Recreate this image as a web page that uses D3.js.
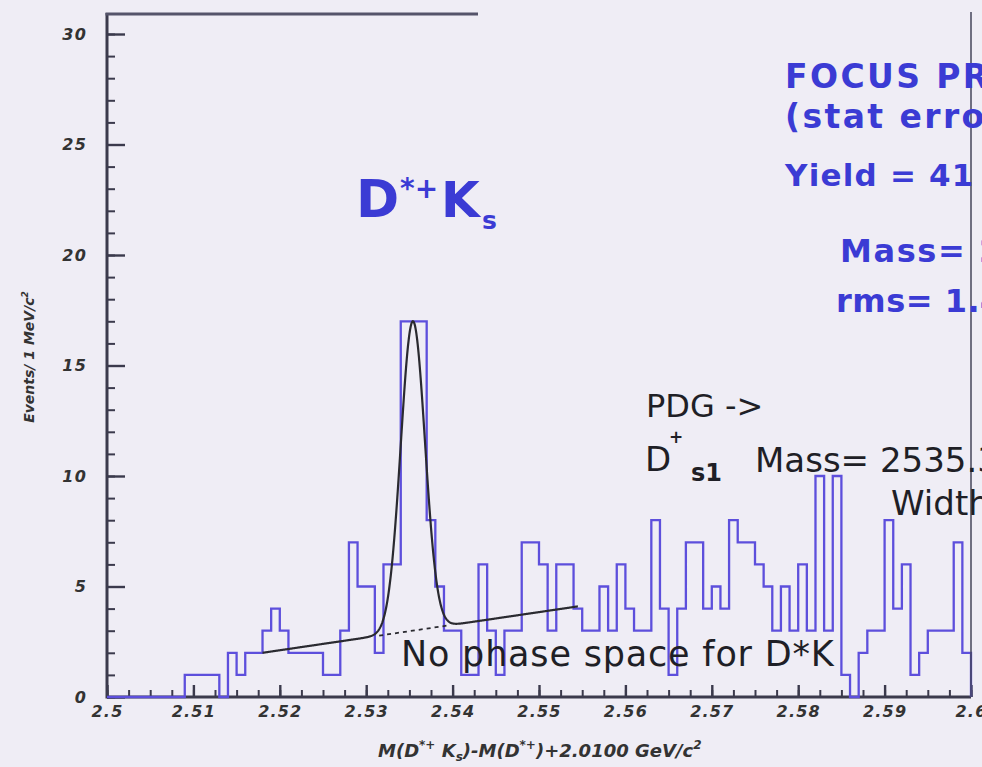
<!DOCTYPE html>
<html>
<head>
<meta charset="utf-8">
<script src="https://cdn.jsdelivr.net/npm/d3@7"></script>
<style>
  html, body { margin: 0; padding: 0; background: #efedf5; overflow: hidden; }
  svg { display: block; }
  text { font-family: 'DejaVu Sans', sans-serif; }
</style>
</head>
<body>
<svg width="982" height="767"></svg>
<script>
// histogram: events per 1 MeV bin, from 2.500 to 2.600 GeV
const binStart = 2.5;
const binWidth = 0.001;
const counts = [
  0, 0, 0, 0, 0, 0, 0, 0, 0, 1,
  1, 1, 1, 0, 2, 1, 2, 2, 3, 4,
  3, 2, 2, 2, 2, 1, 1, 3, 7, 5,
  5, 2, 6, 6, 17, 17, 17, 8, 5, 3,
  3, 1, 1, 6, 3, 1, 3, 3, 7, 7,
  6, 3, 6, 6, 4, 3, 3, 5, 3, 6,
  4, 3, 3, 8, 4, 1, 4, 7, 7, 4,
  5, 4, 8, 7, 7, 6, 5, 3, 5, 3,
  6, 3, 10, 3, 10, 1, 0, 2, 3, 3,
  8, 4, 6, 1, 2, 3, 3, 3, 7, 2
];

const xMajor = [2.5, 2.51, 2.52, 2.53, 2.54, 2.55, 2.56, 2.57, 2.58, 2.59, 2.6];
const xTickLabels = ['2.5', '2.51', '2.52', '2.53', '2.54', '2.55', '2.56', '2.57', '2.58', '2.59', '2.6'];
const yMajor = [0, 5, 10, 15, 20, 25, 30];
const yTickLabels = ['0', '5', '10', '15', '20', '25', '30'];

// fit: gaussian on a linear background
const fitRange = [2.518, 2.5545];
const bgEnds = [2.0, 4.1];
const peakMass = 2.5354;
const peakRms = 0.0014;
const peakHeight = 14;
const dashRange = [2.5315, 2.5393];

const svg = d3.select('svg');
const axisColor = '#3b3a4c';
const histColor = '#5d4fdc';
const blue = '#3b3bd4';
const ink = '#1f1f26';

const x = d3.scaleLinear().domain([2.5, 2.6]).range([107, 971]);
const y = d3.scaleLinear().domain([0, 30]).range([697, 34]);

const styleLabels = g => g.selectAll('text')
  .attr('fill', '#333').attr('font-size', 16).attr('font-weight', 'bold')
  .attr('font-style', 'italic').attr('letter-spacing', 1.2)
  .attr('font-family', 'DejaVu Sans');

// y axis, ticks pointing inwards
svg.append('g')
  .attr('transform', 'translate(' + x(2.5) + ',0)')
  .call(d3.axisLeft(y).tickValues(d3.range(0, 31)).tickSize(-8).tickFormat(''))
  .call(g => g.select('.domain').remove())
  .selectAll('line').attr('stroke', axisColor).attr('stroke-width', 2);

svg.append('g')
  .attr('transform', 'translate(' + x(2.5) + ',0)')
  .call(d3.axisLeft(y).tickValues(yMajor).tickSize(-18).tickPadding(20)
    .tickFormat((d, i) => yTickLabels[i]))
  .call(g => g.select('.domain').remove())
  .call(g => g.selectAll('line').attr('stroke', axisColor).attr('stroke-width', 2.4))
  .call(styleLabels);

// x axis
svg.append('g')
  .attr('transform', 'translate(0,' + y(0) + ')')
  .call(d3.axisBottom(x).tickValues(d3.range(0, 41).map(i => 2.5 + i * 0.0025)).tickSize(-7).tickFormat(''))
  .call(g => g.select('.domain').remove())
  .selectAll('line').attr('stroke', axisColor).attr('stroke-width', 2);

svg.append('g')
  .attr('transform', 'translate(0,' + y(0) + ')')
  .call(d3.axisBottom(x).tickValues(xMajor).tickSize(-12).tickPadding(9)
    .tickFormat((d, i) => xTickLabels[i]))
  .call(g => g.select('.domain').remove())
  .call(g => g.selectAll('line').attr('stroke', axisColor).attr('stroke-width', 2.4))
  .call(styleLabels);

// frame pieces
svg.append('line')
  .attr('x1', x(2.5)).attr('x2', x(2.6)).attr('y1', y(0)).attr('y2', y(0))
  .attr('stroke', axisColor).attr('stroke-width', 3);
svg.append('line')
  .attr('x1', x(2.5)).attr('x2', x(2.5)).attr('y1', 13).attr('y2', y(0) + 1.5)
  .attr('stroke', axisColor).attr('stroke-width', 3);
svg.append('line')
  .attr('x1', x(2.5) - 1.5).attr('x2', 478).attr('y1', 14).attr('y2', 14)
  .attr('stroke', '#55546a').attr('stroke-width', 3);

// histogram outline
const histPts = [[binStart, 0]]
  .concat(counts.map((c, i) => [binStart + i * binWidth, c]))
  .concat([[binStart + counts.length * binWidth, counts[counts.length - 1]],
           [binStart + counts.length * binWidth, 0]]);
const step = d3.line()
  .x(d => x(d[0]))
  .y(d => y(d[1]))
  .curve(d3.curveStepAfter);
svg.append('path')
  .attr('d', step(histPts))
  .attr('fill', 'none')
  .attr('stroke', histColor)
  .attr('stroke-width', 2.3);

// fit curve
const bg = m => bgEnds[0] + (bgEnds[1] - bgEnds[0]) * (m - fitRange[0]) / (fitRange[1] - fitRange[0]);
const fit = m => bg(m) + peakHeight * Math.exp(-0.5 * Math.pow((m - peakMass) / peakRms, 2));
const fitXs = d3.range(fitRange[0], fitRange[1], 0.00005).concat([fitRange[1]]);
const curve = d3.line().x(d => x(d)).y(d => y(fit(d)));
svg.append('path')
  .attr('d', curve(fitXs))
  .attr('fill', 'none')
  .attr('stroke', '#2a2a30')
  .attr('stroke-width', 2.2);
svg.append('line')
  .attr('x1', x(dashRange[0])).attr('y1', y(bg(dashRange[0])))
  .attr('x2', x(dashRange[1])).attr('y2', y(bg(dashRange[1])))
  .attr('stroke', '#2a2a30').attr('stroke-width', 1.8)
  .attr('stroke-dasharray', '4,4');

// right edge line of the pasted box
svg.append('line')
  .attr('x1', 971).attr('x2', 971).attr('y1', 12).attr('y2', y(0))
  .attr('stroke', '#45445a').attr('stroke-width', 1.5);

// axis titles
const yTitle = svg.append('text')
  .attr('transform', 'translate(34,357) rotate(-90)')
  .attr('text-anchor', 'middle')
  .attr('font-size', 14).attr('font-weight', 'bold').attr('font-style', 'italic')
  .attr('fill', '#333');
yTitle.append('tspan').text('Events/ 1 MeV/c');
yTitle.append('tspan').attr('font-size', 9).attr('dy', -6).text('2');

const xTitle = svg.append('text')
  .attr('x', 378).attr('y', 757)
  .attr('font-size', 18).attr('font-weight', 'bold').attr('font-style', 'italic')
  .attr('fill', '#333');
xTitle.append('tspan').text('M(D');
xTitle.append('tspan').attr('font-size', 12).attr('dy', -8).text('*+');
xTitle.append('tspan').attr('dy', 8).text(' K');
xTitle.append('tspan').attr('font-size', 12).attr('dy', 4).text('s');
xTitle.append('tspan').attr('dy', -4).text(')-M(D');
xTitle.append('tspan').attr('font-size', 12).attr('dy', -8).text('*+');
xTitle.append('tspan').attr('dy', 8).text(')+2.0100 GeV/c');
xTitle.append('tspan').attr('font-size', 12).attr('dy', -8).text('2');

// D*+ Ks label
const dk = svg.append('text').attr('fill', blue).attr('font-weight', 'bold');
dk.append('tspan').attr('x', 356).attr('y', 217).attr('font-size', 52).text('D');
dk.append('tspan').attr('x', 400).attr('y', 198).attr('font-size', 28).text('*+');
dk.append('tspan').attr('x', 441).attr('y', 217).attr('font-size', 50).text('K');
dk.append('tspan').attr('x', 482).attr('y', 229).attr('font-size', 25).text('s');

// FOCUS box text
const infoLines = [
  { t: 'FOCUS PRELIMINARY', x: 785, y: 88, size: 33, gap: 2.4 },
  { t: '(stat errors only)', x: 785, y: 128, size: 33, gap: 2.4 },
  { t: 'Yield = 41 \u00b1 9', x: 785, y: 186, size: 31, gap: 1.2 },
  { t: 'Mass= 2535.3 \u00b1 0.4 MeV', x: 840, y: 262, size: 32, gap: 1.6 },
  { t: 'rms= 1.4 MeV', x: 836, y: 312, size: 32, gap: 0.5 }
];
svg.selectAll('text.info')
  .data(infoLines)
  .enter()
  .append('text')
    .attr('class', 'info')
    .attr('x', d => d.x).attr('y', d => d.y)
    .attr('font-size', d => d.size)
    .attr('letter-spacing', d => d.gap)
    .attr('font-weight', 'bold')
    .attr('fill', blue)
    .text(d => d.t);

// PDG annotation
svg.append('text')
  .attr('x', 646).attr('y', 417).attr('font-size', 32).attr('fill', ink)
  .text('PDG ->');
const ds = svg.append('text').attr('fill', ink);
ds.append('tspan').attr('x', 645).attr('y', 471).attr('font-size', 34).text('D');
ds.append('tspan').attr('x', 669).attr('y', 443).attr('font-size', 17).attr('font-weight', 'bold').text('+');
ds.append('tspan').attr('x', 691).attr('y', 481).attr('font-size', 24).attr('font-weight', 'bold').text('s1');
svg.append('text')
  .attr('x', 755).attr('y', 472).attr('font-size', 34).attr('fill', ink)
  .text('Mass= 2535.35 \u00b1 0.34 MeV');
svg.append('text')
  .attr('x', 891).attr('y', 515).attr('font-size', 34).attr('fill', ink)
  .text('Width < 2.3 MeV');

svg.append('text')
  .attr('x', 401).attr('y', 666).attr('font-size', 35).attr('fill', ink)
  .attr('letter-spacing', 0.8)
  .text('No phase space for D*K');
</script>
</body>
</html>
